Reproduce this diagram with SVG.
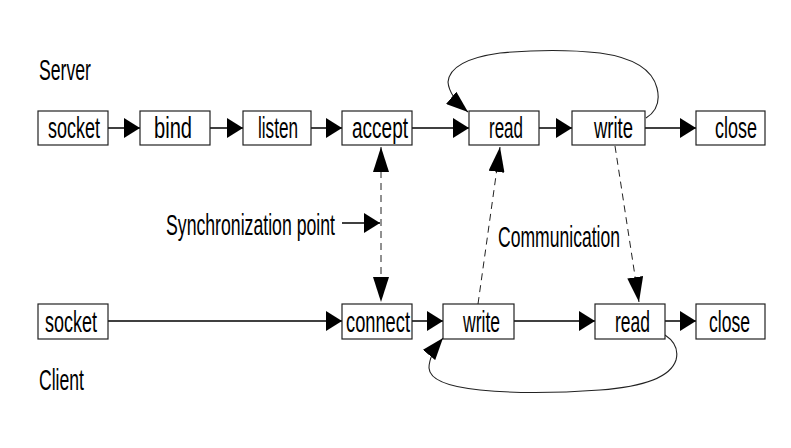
<svg xmlns="http://www.w3.org/2000/svg" width="791" height="448" viewBox="0 0 791 448">
<style>
.box{fill:#fff;stroke:#222;stroke-width:1.2}
.t{font-family:"Liberation Sans",Arial,sans-serif;font-size:29px;fill:#000}
.ln{stroke:#000;stroke-width:1.5;fill:none}
.ds{stroke:#222;stroke-width:1;fill:none;stroke-dasharray:7 5}
.lp{stroke:#222;stroke-width:1.1;fill:none}
</style>
<defs>
<marker id="a" markerUnits="userSpaceOnUse" viewBox="0 0 16 20" markerWidth="16" markerHeight="20" refX="16" refY="10" orient="auto"><path d="M0,0 L16,10 L0,20 z" fill="#000"/></marker>
<marker id="d" markerUnits="userSpaceOnUse" viewBox="0 0 25 16" markerWidth="25" markerHeight="16" refX="25" refY="8" orient="auto-start-reverse"><path d="M0,0 L25,8 L0,16 z" fill="#000"/></marker>
<marker id="l" markerUnits="userSpaceOnUse" viewBox="0 0 22 16" markerWidth="22" markerHeight="16" refX="22" refY="8" orient="auto"><path d="M0,0 L22,8 L0,16 z" fill="#000"/></marker>
</defs>
<rect width="791" height="448" fill="#fff"/>

<g id="labels">
<text class="t" x="39" y="80" textLength="52" lengthAdjust="spacingAndGlyphs">Server</text>
<text class="t" x="39" y="390" textLength="45" lengthAdjust="spacingAndGlyphs">Client</text>
<text class="t" x="166" y="235" textLength="169" lengthAdjust="spacingAndGlyphs">Synchronization point</text>
<text class="t" x="498" y="247" textLength="122" lengthAdjust="spacingAndGlyphs">Communication</text>
</g>

<g id="connectors">
<line class="ln" x1="108" y1="128" x2="140" y2="128" marker-end="url(#a)"/>
<line class="ln" x1="210" y1="128" x2="243" y2="128" marker-end="url(#a)"/>
<line class="ln" x1="311" y1="128" x2="342" y2="128" marker-end="url(#a)"/>
<line class="ln" x1="412" y1="128" x2="469" y2="128" marker-end="url(#a)"/>
<line class="ln" x1="539" y1="128" x2="572" y2="128" marker-end="url(#a)"/>
<line class="ln" x1="645" y1="128" x2="696" y2="128" marker-end="url(#a)"/>
<line class="ln" x1="108" y1="321" x2="342" y2="321" marker-end="url(#a)"/>
<line class="ln" x1="412" y1="321" x2="443" y2="321" marker-end="url(#a)"/>
<line class="ln" x1="514" y1="321" x2="595" y2="321" marker-end="url(#a)"/>
<line class="ln" x1="665" y1="321" x2="696" y2="321" marker-end="url(#a)"/>
<line class="ln" x1="342" y1="223" x2="380" y2="223" marker-end="url(#a)"/>
<line class="ds" x1="381" y1="147" x2="381" y2="302" marker-start="url(#d)" marker-end="url(#d)"/>
<line class="ds" x1="478" y1="304" x2="500" y2="147" marker-end="url(#d)"/>
<line class="ds" x1="615" y1="146" x2="639" y2="302" marker-end="url(#d)"/>
<path class="lp" d="M646,118 Q662,108 657,88 Q650,60 600,53 Q555,48 500,53 Q450,60 448,82 Q449,96 468,112" marker-end="url(#l)"/>
<path class="lp" d="M665,335 Q680,345 676,360 Q668,385 600,390 Q530,395 480,390 Q430,385 429,368 Q429,355 443,338" marker-end="url(#l)"/>
</g>

<g id="s-socket"><rect class="box" x="38" y="111" width="70" height="34"/><text class="t" x="48" y="138" textLength="52" lengthAdjust="spacingAndGlyphs">socket</text></g>
<g id="s-bind"><rect class="box" x="140" y="111" width="70" height="34"/><text class="t" x="154" y="138" textLength="38" lengthAdjust="spacingAndGlyphs">bind</text></g>
<g id="s-listen"><rect class="box" x="243" y="111" width="68" height="34"/><text class="t" x="258" y="138" textLength="40" lengthAdjust="spacingAndGlyphs">listen</text></g>
<g id="s-accept"><rect class="box" x="342" y="111" width="70" height="34"/><text class="t" x="352" y="138" textLength="56" lengthAdjust="spacingAndGlyphs">accept</text></g>
<g id="s-read"><rect class="box" x="469" y="111" width="70" height="34"/><text class="t" x="489" y="138" textLength="34" lengthAdjust="spacingAndGlyphs">read</text></g>
<g id="s-write"><rect class="box" x="572" y="111" width="73" height="34"/><text class="t" x="594" y="138" textLength="39" lengthAdjust="spacingAndGlyphs">write</text></g>
<g id="s-close"><rect class="box" x="696" y="111" width="69" height="34"/><text class="t" x="715" y="138" textLength="42" lengthAdjust="spacingAndGlyphs">close</text></g>

<g id="c-socket"><rect class="box" x="38" y="304" width="70" height="35"/><text class="t" x="45" y="332" textLength="52" lengthAdjust="spacingAndGlyphs">socket</text></g>
<g id="c-connect"><rect class="box" x="342" y="304" width="70" height="35"/><text class="t" x="346" y="332" textLength="64" lengthAdjust="spacingAndGlyphs">connect</text></g>
<g id="c-write"><rect class="box" x="443" y="304" width="71" height="35"/><text class="t" x="463" y="332" textLength="37" lengthAdjust="spacingAndGlyphs">write</text></g>
<g id="c-read"><rect class="box" x="595" y="304" width="70" height="35"/><text class="t" x="615" y="332" textLength="35" lengthAdjust="spacingAndGlyphs">read</text></g>
<g id="c-close"><rect class="box" x="696" y="304" width="69" height="35"/><text class="t" x="709" y="332" textLength="41" lengthAdjust="spacingAndGlyphs">close</text></g>
</svg>
